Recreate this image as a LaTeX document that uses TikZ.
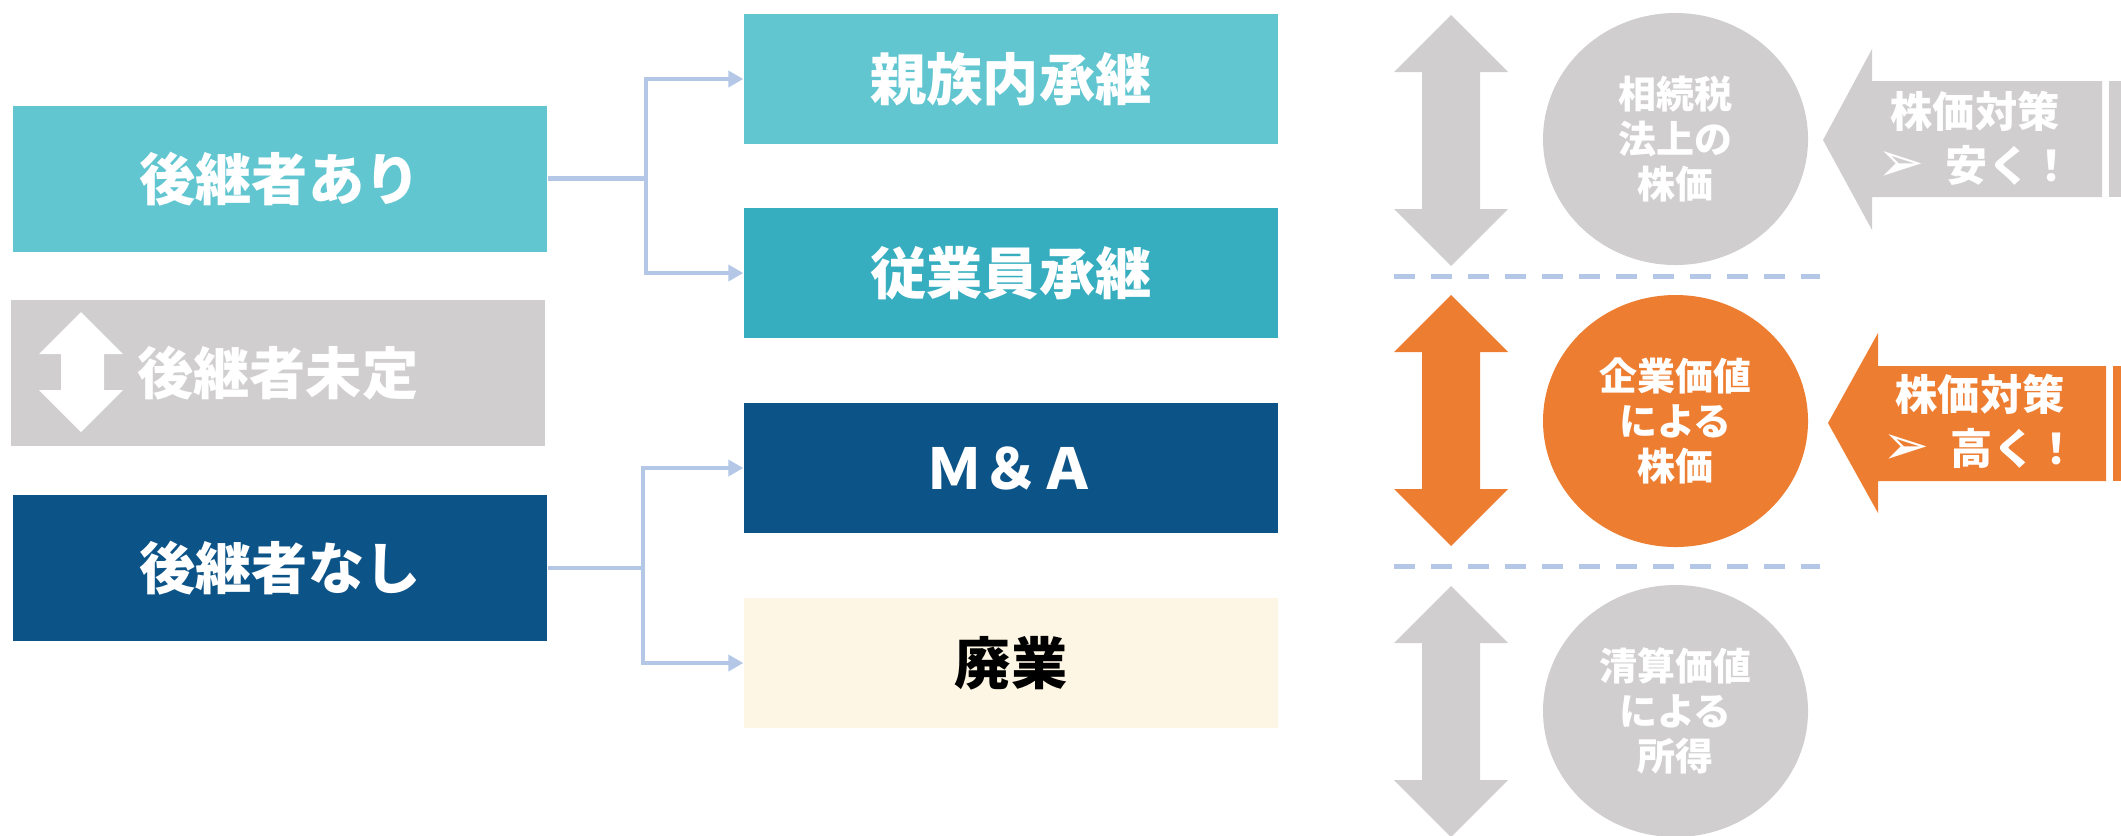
\documentclass[tikz,border=0pt]{standalone}
\usepackage{fontspec}
\setmainfont{Noto Sans CJK JP}
\newfontfamily\symfont{DejaVu Sans}
\usetikzlibrary{arrows.meta,shapes.geometric}

\definecolor{tealA}{HTML}{62C6D1}
\definecolor{tealB}{HTML}{37AEC0}
\definecolor{navy}{HTML}{0C5388}
\definecolor{cream}{HTML}{FEF6E5}
\definecolor{stone}{HTML}{D0CECE}
\definecolor{carrot}{HTML}{ED7D31}
\definecolor{linkblue}{HTML}{B4C7E7}

\begin{document}
\begin{tikzpicture}[x=0.1mm, y=-0.1mm,
  casebox/.style={rectangle, minimum width=53.4mm, minimum height=14.6mm, inner sep=0pt, text=white, font=\fontsize{16}{18}\selectfont\bfseries},
  routebox/.style={rectangle, minimum width=53.4mm, minimum height=13mm, inner sep=0pt, text=white, font=\fontsize{16}{18}\selectfont\bfseries},
  oval/.style={ellipse, minimum width=26.5mm, minimum height=25.2mm, inner sep=0pt, text=white, align=center, font=\fontsize{10.8}{12.8}\selectfont\bfseries},
  pricetag/.style={inner sep=0pt, text=white, align=center, font=\fontsize{12}{15.4}\selectfont\bfseries},
  conn/.style={draw=linkblue, line width=0.45mm, -{Triangle[length=1.5mm, width=1.6mm]}},
  sep/.style={draw=linkblue, line width=0.5mm, dash pattern=on 2.1mm off 1.6mm}]
  \useasboundingbox (0,0) rectangle (2121,835);

  % left column
  \node [casebox, fill=tealA] (yes) at (280,178.7) {後継者あり};
  \node [casebox, fill=stone] (undecided) at (277.8,373) {後継者未定};
  \node [casebox, fill=navy] (no) at (280,567.8) {後継者なし};
  \fill [white] (81,312) -- (123,354) -- (104,354) -- (104,390) -- (123,390) -- (81,432)
    -- (39,390) -- (61,390) -- (61,354) -- (39,354) -- cycle;

  % middle column
  \node [routebox, fill=tealA] (kin) at (1011,79) {親族内承継};
  \node [routebox, fill=tealB] (staff) at (1011,273) {従業員承継};
  \node [routebox, fill=navy] (ma) at (1011,468) {Ｍ＆Ａ};
  \node [routebox, fill=cream, text=black] (close) at (1011,663) {廃業};

  \coordinate (jyes) at (646,178.7);
  \coordinate (jno) at (643,567.8);
  \draw [conn] (yes.east) -- (jyes) |- (kin.west);
  \draw [conn] (jyes) |- (staff.west);
  \draw [conn] (no.east) -- (jno) |- (ma.west);
  \draw [conn] (jno) |- (close.west);

  % right column
  \foreach \t/\c in {15/stone, 295/carrot, 586/stone}
    \fill [\c] (1451,\t) -- (1508,\t+57) -- (1480,\t+57) -- (1480,\t+194) -- (1508,\t+194)
      -- (1451,\t+251) -- (1394,\t+194) -- (1422,\t+194) -- (1422,\t+57) -- (1394,\t+57) -- cycle;

  \draw [sep] (1394,276) -- (1820,276);
  \draw [sep] (1394,566) -- (1820,566);

  \node [oval, fill=stone] (taxval) at (1675.5,139) {相続税\\法上の\\株価};
  \node [oval, fill=carrot] (firmval) at (1675.5,421) {企業価値\\による\\株価};
  \node [oval, fill=stone] (liqval) at (1675.5,711) {清算価値\\による\\所得};

  \fill [stone] (1823,140) -- (1872,49) -- (1872,81) -- (2102,81) -- (2102,197) -- (1872,197) -- (1872,230) -- cycle;
  \fill [stone] (2109,81) rectangle (2121,197);
  \fill [carrot] (1828,423) -- (1878,333) -- (1878,366) -- (2106,366) -- (2106,481) -- (1878,481) -- (1878,513) -- cycle;
  \fill [carrot] (2113,366) rectangle (2121,481);

  \node [pricetag] (cheap) at (1975,138) {株価対策\\{\symfont\fontsize{16}{15.4}\selectfont ➢}\hspace{0.5em}安く！};
  \node [pricetag] (dear) at (1980,421) {株価対策\\{\symfont\fontsize{16}{15.4}\selectfont ➢}\hspace{0.5em}高く！};
\end{tikzpicture}
\end{document}
